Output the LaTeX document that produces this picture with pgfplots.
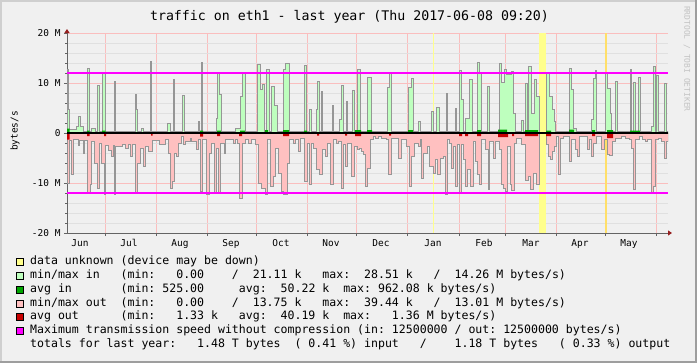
\documentclass[border=0pt]{standalone}
\usepackage{fontspec}
\setmainfont{DejaVu Sans Mono}
\usepackage{pgfplots}
\pgfplotsset{compat=1.18}
\usetikzlibrary{arrows.meta}
\definecolor{bgc}{RGB}{240,240,240}
\definecolor{shadea}{RGB}{207,207,207}
\definecolor{shadeb}{RGB}{158,158,158}
\definecolor{mgrid}{RGB}{250,190,190}
\definecolor{ngrid}{RGB}{224,224,224}
\definecolor{ingreen}{RGB}{190,255,190}
\definecolor{avgin}{RGB}{0,165,0}
\definecolor{outpink}{RGB}{255,192,192}
\definecolor{avgout}{RGB}{200,0,0}
\definecolor{outl}{RGB}{150,150,150}
\definecolor{unk}{RGB}{255,255,140}
\definecolor{maxc}{RGB}{255,0,255}
\definecolor{arrowc}{RGB}{150,30,30}
\definecolor{axc}{RGB}{100,100,100}
\definecolor{wmark}{RGB}{195,195,195}
\begin{document}
\begin{tikzpicture}[x=1bp,y=1bp]
\useasboundingbox (0,0) rectangle (697,363);
\fill[bgc] (0,0) rectangle (697,363);
\fill[shadea] (0,0) rectangle (2,363);
\fill[shadea] (0,361) rectangle (697,363);
\fill[shadeb] (695,0) rectangle (697,363);
\fill[shadeb] (0,0) rectangle (697,2);
\node[font=\fontsize{13.3}{15}\selectfont] at (349.5,346) {traffic on eth1 - last year (Thu 2017-06-08 09:20)};
\node[font=\fontsize{8}{9}\selectfont, text=wmark, rotate=-90, anchor=west, inner sep=0] at (687,357) {RRDTOOL / TOBI OETIKER};
\node[font=\fontsize{9.5}{11}\selectfont, rotate=90] at (15,232) {bytes/s};
\begin{axis}[
 at={(67bp,130bp)}, anchor=south west,
 scale only axis, width=601bp, height=200bp,
 xmin=0, xmax=601, ymin=-20, ymax=20,
 axis x line*=bottom, axis y line*=left,
 axis line style={axc, line width=0.8bp},
 x axis line style={-{Triangle[length=4bp,width=5bp,color=arrowc]}, shorten >=-4bp},
 y axis line style={-{Triangle[length=4bp,width=5bp,color=arrowc]}, shorten >=-4bp},
 ytick={-20,-10,0,10,20},
 yticklabels={-20 M,-10 M,0,10 M,20 M},
 minor y tick num=4,
 xtick={37.9,88.9,140.0,189.4,240.4,289.8,340.8,391.9,438.0,489.0,538.4,589.5},
 xticklabels={},
 extra x ticks={13,62,113,164,214,264,314,366,417,464,513,562},
 extra x tick labels={Jun,Jul,Aug,Sep,Oct,Nov,Dec,Jan,Feb,Mar,Apr,May},
 extra x tick style={grid=none, major tick length=0pt, tick label style={yshift=-3bp}},
 grid=both,
 major grid style={mgrid, line width=0.8bp},
 minor grid style={ngrid, line width=0.8bp},
 tick align=outside,
 major tick length=3bp, minor tick length=2bp,
 tick style={axc, line width=0.7bp},
 ticklabel style={font=\fontsize{9.5}{11}\selectfont},
]
% data unknown periods
\addplot[draw=none, fill=unk] coordinates {(472,-20) (478.7,-20) (478.7,20) (472,20)};
\addplot[draw=none, fill=unk] coordinates {(366,-20) (367,-20) (367,20) (366,20)};
\addplot[draw=none, fill=unk!75!orange] coordinates {(538.2,-20) (539.6,-20) (539.6,20) (538.2,20)};
% min/max in
\addplot[const plot, fill=ingreen, draw=outl, line width=0.8bp] coordinates {
(0,12.8) (1.3,4.7) (2.7,0.8) (9.7,1.3) (11,3.3) (13.3,1.3) (16.3,0.3) (20,12.9) (22.7,0.3) (24.7,1.0) (28.7,0.3) (30,9.6) (32,0.3) (35,11.9) (38.7,0.3) (47,10.3) (48.5,0.3) (68,7.7) (69.7,4.7) (70.7,0.3) (74.7,1.0) (76.7,0.3) (83,14.3) (84.5,0.3) (100.7,2) (103.3,0.3) (106,10.7) (107.5,0.3) (115.5,7.5) (117,0.3) (131.3,2.3) (132.7,0.3) (134,14.2) (135.5,0.3) (149,3) (150.7,12.1) (152.3,7.7) (154,0.3) (168,1) (173,7.3) (175.3,12.2) (178,0.3) (190.7,13.8) (193.3,8.7) (195.3,9.7) (197,0.3) (199.5,12.8) (202,0.3) (204.3,9.3) (207,5.5) (210,0.3) (216,12.8) (218.7,14) (222,0.3) (237.3,13.5) (239.3,0.3) (242.7,4.7) (244.7,0.3) (249.7,4.7) (250.7,10.3) (252,0.3) (254,8.3) (255.3,0.3) (265,5.5) (266.3,0.3) (272,2.7) (274.7,9.5) (276,0.3) (279.3,6.3) (280.7,0.3) (285.3,8.5) (287.3,0.3) (290.7,12.8) (293.3,0.3) (300,11.1) (304.7,0.3) (320.7,9.2) (322.7,12.1) (324.7,0.3) (341.3,9.2) (344,11) (346.7,0.3) (351.3,2.3) (353,0.3) (364,4.3) (366,0.3) (369.3,5.1) (372,0.3) (379.3,8) (380.7,0.3) (388,5) (389.3,0.3) (392,12.5) (394.7,6.7) (396.3,0.3) (398,3) (402,10.7) (405.3,0.3) (410,14.2) (412.7,12) (414,0.3) (420.7,9.3) (422.7,0.3) (432.7,14) (434.7,10.1) (437.3,12.7) (439.3,11.7) (444.7,12.3) (446.7,4) (448.7,0.3) (454.7,2.5) (456.7,0.3) (458,10) (460,0.3) (461.3,13.3) (464,4) (467.3,10.8) (469.7,7.3) (472,0) (479.3,11.9) (482,7.3) (485.3,4.7) (487.3,2.3) (488.7,0.3) (502,13) (504,8.8) (506.7,1) (509.3,0.3) (524,2.7) (526,11) (528,12.5) (529,0.3) (538.7,12) (540.7,9) (543.3,4) (544.7,0.3) (548,10.3) (550,0.3) (563,12.8) (564.7,0.3) (566.3,10.1) (568,0.3) (571.3,11.2) (573.3,0.3) (584,1.3) (586,13.3) (588,0.3) (589.3,11.5) (591,0.3) (597.3,9.9) (599.3,0.3) (601,0.3)
} \closedcycle;
% min/max out
\addplot[const plot, fill=outpink, draw=outl, line width=0.8bp] coordinates {
(0,-10) (2,-1.5) (4,-8.3) (6.3,-1.3) (11.3,-2.5) (12.7,-1.5) (16.3,-4) (17.3,-1.5) (20,-11.9) (23.3,-10.3) (24.7,-1.7) (27.3,-6) (30,-11) (32.7,-2) (34.7,-6) (37.3,-12.3) (38.7,-2.5) (41,-3.5) (44.7,-4.7) (46,-2.5) (47.3,-12.3) (48.7,-2.7) (55,-2.2) (58,-3) (61.3,-2.2) (63,-4.7) (65,-2.3) (68,-11.9) (70.7,-6) (73,-3) (76.7,-6.7) (78,-2.7) (81.3,-3.7) (85.3,-1.5) (92,-2.3)
(98,-1.3) (101.3,-4) (103.3,-11) (105.3,-9.7) (107.3,-4) (109.3,-4.7) (111.3,-2) (114.7,-0.7) (116.7,-2.3) (118.7,-1.7) (123,-1) (124.7,-1.7) (129.3,-3.3) (131.3,-1.3) (133.3,-11.7) (135.3,-1.3) (139.3,-12.3) (142.7,-4) (144.7,-2) (147.3,-12) (149,-3) (151.3,-12) (153.3,-2) (157.3,-4) (158.7,-1.3) (166.7,-2) (168.7,-1.3) (170.7,-2) (172,-13) (175.3,-2) (178,-1.3) (181.3,-2) (184.7,-1.3) (188,-2.3) (191.3,-10) (194.7,-11)
(198,-12.3) (200,-1.3) (203.3,-10.7) (206.3,-8.7) (208,-3) (211.3,-8) (214.7,-11.7) (216.7,-12.3) (220,-6) (222,-1.3) (226,-2) (228,-1.3) (231.3,-3.7) (233.3,-1) (237.3,-9.7) (240,-2) (242,-10.3) (244,-2) (246.7,-3) (249.7,-7.3) (252,-8.3) (255.3,-3.3) (258,-4.7) (260,-2) (263.3,-10.3) (266,-1.3) (269.3,-2) (271.3,-1.7) (274,-11) (276,-2.3) (278,-6.7) (280,-2) (284.7,-8.7) (287.3,-2.7) (290,-3.3) (292,-3) (294,-3.7) (296.7,-4.3)
(298,-10.7) (300.7,-7) (303.3,-1.3) (306,-0.7) (308,-1) (311.3,-0.7) (314.7,-1) (319.3,-1.3) (321.3,-8.3) (324.7,-1) (331.3,-5) (334,-1.3) (339.3,-2.7) (342.7,-10.7) (344.7,-4.7) (347.3,-2) (351.3,-2.7) (353,-1.3) (354.7,-9) (356.7,-4) (360,-2.7) (362.7,-6.7) (366,-8) (368,-5.3) (370.7,-8.3) (373.3,-5) (376,-4.7) (378,-12.3) (380,-1.3) (382.7,-2) (384.7,-7) (386.7,-2.7) (388,-10.7) (390.7,-2.3) (392.7,-12) (394.7,-2.3) (396.7,-5.3)
(398,-10.7) (400.7,-7.3) (403.3,-10.7) (406,-1.7) (408,-5.7) (410.7,-8.3) (412.7,-10.3) (414,-1.3) (418,-3.3) (421,-11.3) (422.7,-1.7) (426,-5) (428.7,-1.7) (432,-3.3) (434,-10.3) (436,-11) (438,-11.7) (440.7,-2.7) (443,-10.3) (444.7,-11.5) (447.3,-2) (449.3,-1) (454.7,-2.3) (458,-9.5) (461.3,-8.7) (463.3,-11.3) (466.7,-8) (469.3,-10.3) (472,0) (479.3,-2.3) (481.3,-4.7) (483.3,-5.3) (485.3,-3.7) (487.3,-2.7) (489.3,-0.7) (491.3,-8.3) (493.3,-1) (496,-0.7)
(502,-5.7) (504,-1.3) (508,-3.3) (510.7,-4.7) (512.7,-0.7) (520,-3.3) (522,-1.3) (524,-4.7) (526,-2) (529.3,-0.7) (534.7,-3.3) (537.3,-1.3) (540,-4.3) (542,-4.5) (545.3,-1.7) (548,-1) (554.7,-0.7) (558,-1) (562,-1.3) (564,-3) (566,-11.2) (568,-1.3) (572,-0.7) (575.3,-1.3) (578,-1.7) (580,-1.3) (584,-12) (586.7,-10.7) (588,-1.3) (591.3,-1) (594.7,-1.7) (597.3,-5) (599.3,-1.7) (601,-1.7)
} \closedcycle;
% avg in
\addplot[const plot, fill=avgin, draw=none] coordinates {
(0,0.9) (2.7,0.1) (20,0.5) (22.7,0.1) (35,0.5) (38.7,0.1) (133,0.5) (136,0.1) (150,0.5) (154,0.1) (173,0.5) (178,0.1) (198,0.6) (201,0.1) (216,0.6) (222,0.1) (237,0.5) (240,0.1) (288,0.6) (294,0.1) (300,0.6) (305,0.1) (341,0.6) (346,0.1) (410,0.6) (414,0.1) (431,0.7) (440,0.1) (458,0.6) (471,0.1) (479,0.5) (484,0.1) (502,0.7) (507,0.1) (525,0.6) (528,0.1) (540,0.6) (546,0.1) (563,0.5) (573,0.1) (601,0.1)
} \closedcycle;
% avg out
\addplot[const plot, fill=avgout, draw=none] coordinates {
(0,-1.3) (2.7,-0.1) (20,-0.6) (22.7,-0.1) (37,-0.6) (39,-0.1) (84,-0.5) (85.5,-0.1) (133,-0.7) (136,-0.1) (150,-0.6) (153,-0.1) (172,-0.6) (175,-0.1) (216,-0.6) (222,-0.1) (250,-0.5) (252,-0.1) (278,-0.5) (280,-0.1) (288,-0.6) (294,-0.1) (322,-0.5) (324,-0.1) (392,-0.6) (395,-0.1) (398,-0.6) (401,-0.1) (410,-0.6) (414,-0.1) (431,-0.8) (441,-0.1) (445,-0.6) (447,-0.1) (458,-0.6) (471,-0.1) (479,-0.6) (484,-0.1) (525,-0.6) (528,-0.1) (540,-1.0) (546,-0.1) (601,-0.1)
} \closedcycle;
% zero line and maximum speed (12500000 bytes/s = 11.92 Mi)
\addplot[draw=black, line width=2bp] coordinates {(0,0) (601,0)};
\addplot[draw=maxc, line width=2bp] coordinates {(0,-11.92) (601,-11.92)};
\addplot[draw=maxc, line width=2bp] coordinates {(0,11.92) (601,11.92)};
\end{axis}
% legend
\begin{scope}[every node/.style={font=\fontsize{11.6}{13}\selectfont, anchor=mid west, inner sep=0}]
\foreach \yy/\cc in {101/unk, 87.2/ingreen, 73.4/avgin, 59.6/outpink, 45.8/avgout, 32/maxc}{
  \filldraw[fill=\cc, draw=black, line width=0.7bp] (16.5,\yy-3.5) rectangle (23.5,\yy+3.5);
}
\node at (30,101) {data~unknown~(device~may~be~down)};
\node at (30,87.2) {min/max~in~~~(min:~~~0.00~~~~/~~21.11~k~~~max:~~28.51~k~~~/~~14.26~M~bytes/s)};
\node at (30,73.4) {avg~in~~~~~~~(min:~525.00~~~~~avg:~~50.22~k~~max:~962.08~k~bytes/s)};
\node at (30,59.6) {min/max~out~~(min:~~~0.00~~~~/~~13.75~k~~~max:~~39.44~k~~~/~~13.01~M~bytes/s)};
\node at (30,45.8) {avg~out~~~~~~(min:~~~1.33~k~~~avg:~~40.19~k~~max:~~~1.36~M~bytes/s)};
\node at (30,32) {Maximum~transmission~speed~without~compression~(in:~12500000~/~out:~12500000~bytes/s)};
\node at (30,18.2) {totals~for~last~year:~~~1.48~T~bytes~~(~0.41~\%)~input~~~/~~~~1.18~T~bytes~~~(~0.33~\%)~output};
\end{scope}
\end{tikzpicture}
\end{document}
